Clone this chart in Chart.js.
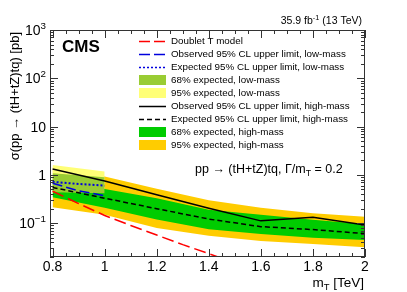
<!DOCTYPE html>
<html>
<head>
<meta charset="utf-8">
<script src="https://cdn.jsdelivr.net/npm/chart.js@4.4.1/dist/chart.umd.min.js"></script>
<style>
  html, body { margin: 0; padding: 0; background: #fff; }
  #wrap { width: 407px; height: 292px; }
</style>
</head>
<body>
<div id="wrap"><canvas id="limits" width="407" height="292"></canvas></div>
<script>
// high-mass search (m_T in TeV, limits in pb)
const massHigh = [0.8, 1.0, 1.2, 1.4, 1.6, 1.8, 2.0];
const obsHigh = [1.32, 0.75, 0.39, 0.205, 0.112, 0.133, 0.092];
const expHigh = [0.55, 0.33, 0.2, 0.122, 0.085, 0.074, 0.061];
const up68High = [0.85, 0.51, 0.33, 0.19, 0.15, 0.118, 0.095];
const dn68High = [0.345, 0.21, 0.12, 0.075, 0.06, 0.05, 0.045];
const up95High = [1.45, 0.93, 0.52, 0.3, 0.21, 0.16, 0.137];
const dn95High = [0.215, 0.149, 0.08, 0.055, 0.043, 0.037, 0.032];

// low-mass search
const massLow = [0.8, 0.9, 1.0];
const obsLow = [0.67, 0.47, 0.37];
const expLow = [0.72, 0.65, 0.6];
const up68Low = [1.08, 0.98, 0.89];
const dn68Low = [0.44, 0.43, 0.42];
const up95Low = [1.6, 1.37, 1.18];
const dn95Low = [0.37, 0.35, 0.33];

// doublet T model
const massTheory = [0.8, 0.9, 1.0, 1.1, 1.2, 1.3, 1.4, 1.5];
const xsecTheory = [0.46, 0.255, 0.145, 0.09, 0.057, 0.036, 0.0235, 0.015];

// axis ticks
const xTickValues = [0.8, 1.0, 1.2, 1.4, 1.6, 1.8, 2.0];
const xTickLabels = ["0.8", "1", "1.2", "1.4", "1.6", "1.8", "2"];
const yTickValues = [0.1, 1, 10, 100, 1000];
const yTickBase = ["10", "1", "10", "10", "10"];
const yTickExp = ["\u22121", "", "", "2", "3"];

const legendLabels = [
  "Doublet T model",
  "Observed 95% CL upper limit, low-mass",
  "Expected 95% CL upper limit, low-mass",
  "68% expected, low-mass",
  "95% expected, low-mass",
  "Observed 95% CL upper limit, high-mass",
  "Expected 95% CL upper limit, high-mass",
  "68% expected, high-mass",
  "95% expected, high-mass",
];

const RED = "#ff0000", BLUE = "#0000dd", BLACK = "#000000";
const LIME = "#99cc33", YELLOW = "#ffff77", GREEN = "#00cc00", ORANGE = "#ffcc00";
const FONT = "'Liberation Sans', Arial, Helvetica, sans-serif";

function pts(xs, ys) {
  return xs.map((x, i) => ({ x: x, y: ys[i] }));
}

function line(data, color, dash, width, order) {
  return {
    data: data, borderColor: color, borderDash: dash, borderWidth: width,
    pointRadius: 0, fill: false, tension: 0, order: order,
  };
}

function band(data, color, target, order) {
  return {
    data: data, borderColor: "rgba(0,0,0,0)", borderWidth: 0, backgroundColor: color,
    pointRadius: 0, fill: target, tension: 0, order: order,
  };
}

// superscript / subscript text helper
function richText(ctx, parts, x, y, size, align) {
  // parts: [text, mode] where mode: 0 normal, 1 sup, -1 sub
  let total = 0;
  const widths = parts.map(p => {
    ctx.font = (p[1] ? size * 0.7 : size) + "px " + FONT;
    const w = ctx.measureText(p[0]).width;
    total += w;
    return w;
  });
  let cx = align === "right" ? x - total : x;
  ctx.textAlign = "left";
  ctx.textBaseline = "alphabetic";
  parts.forEach((p, i) => {
    ctx.font = (p[1] ? size * 0.7 : size) + "px " + FONT;
    const dy = p[1] === 1 ? -size * 0.42 : p[1] === -1 ? size * 0.25 : 0;
    ctx.fillText(p[0], cx, y + dy);
    cx += widths[i];
  });
}

const decor = {
  id: "decor",
  afterDraw(chart) {
    const { ctx, chartArea: a, scales } = chart;
    const sx = scales.x, sy = scales.y;
    ctx.save();
    ctx.strokeStyle = "#333";
    ctx.fillStyle = "#000";
    ctx.lineWidth = 1;
    ctx.setLineDash([]);
    ctx.strokeRect(Math.round(a.left) + 0.5, Math.round(a.top) + 0.5,
      Math.round(a.right - a.left) - 1, Math.round(a.bottom - a.top) - 1);

    // x ticks
    ctx.beginPath();
    for (let i = 0; i <= 24; i++) {
      const v = 0.8 + i * 0.05;
      const px = Math.round(sx.getPixelForValue(v)) + 0.5;
      const len = i % 4 === 0 ? 8 : 4;
      ctx.moveTo(px, a.bottom); ctx.lineTo(px, a.bottom - len);
      ctx.moveTo(px, a.top); ctx.lineTo(px, a.top + len);
    }
    // y ticks
    for (let d = -2; d <= 3; d++) {
      for (let k = 1; k <= 9; k++) {
        const v = k * Math.pow(10, d);
        if (v < 0.02 || v > 1000) continue;
        const py = Math.round(sy.getPixelForValue(v)) + 0.5;
        const len = k === 1 ? 8 : 4;
        ctx.moveTo(a.left, py); ctx.lineTo(a.left + len, py);
        ctx.moveTo(a.right, py); ctx.lineTo(a.right - len, py);
      }
    }
    ctx.stroke();

    // tick labels
    ctx.font = "14px " + FONT;
    ctx.textAlign = "center";
    ctx.textBaseline = "alphabetic";
    xTickValues.forEach((v, i) => {
      ctx.fillText(xTickLabels[i], sx.getPixelForValue(v), 271);
    });
    yTickValues.forEach((v, i) => {
      const py = sy.getPixelForValue(v) + 5;
      const parts = [[yTickBase[i], 0]];
      if (yTickExp[i]) parts.push([yTickExp[i], 1]);
      richText(ctx, parts, 46, py, 14, "right");
    });

    // axis titles
    richText(ctx, [["m", 0], ["T", -1], [" [TeV]", 0]], 364, 287, 13.5, "right");
    ctx.save();
    ctx.translate(19, 32);
    ctx.rotate(-Math.PI / 2);
    ctx.font = "13px " + FONT;
    ctx.textAlign = "right";
    ctx.fillText("\u03c3(pp \u2192 (tH+tZ)tq) [pb]", 0, 0);
    ctx.restore();

    // CMS label, lumi, annotation
    ctx.font = "bold 17px " + FONT;
    ctx.textAlign = "left";
    ctx.fillText("CMS", 62, 52);
    richText(ctx, [["35.9 fb", 0], ["-1", 1], [" (13 TeV)", 0]], 362, 24, 10.5, "right");
    richText(ctx, [["pp \u2192 (tH+tZ)tq, \u0393/m", 0], ["T", -1], [" = 0.2", 0]], 195, 173, 12.5, "left");

    // legend
    const rows = [41, 54, 67, 80, 93, 106, 119, 132, 145];
    const styles = [
      ["line", RED, [11, 4], 1.5],
      ["line", BLUE, [11, 4], 1.5],
      ["line", BLUE, [2, 2], 1.5],
      ["box", LIME],
      ["box", YELLOW],
      ["line", BLACK, [], 1.5],
      ["line", BLACK, [5, 3], 1.5],
      ["box", GREEN],
      ["box", ORANGE],
    ];
    rows.forEach((ry, i) => {
      const s = styles[i];
      if (s[0] === "box") {
        ctx.fillStyle = s[1];
        ctx.fillRect(139, ry - 5, 27, 10);
      } else {
        ctx.strokeStyle = s[1];
        ctx.lineWidth = s[3];
        ctx.setLineDash(s[2]);
        ctx.beginPath();
        ctx.moveTo(139, ry + 0.5);
        ctx.lineTo(166, ry + 0.5);
        ctx.stroke();
        ctx.setLineDash([]);
      }
      ctx.fillStyle = "#000";
      ctx.font = "9.8px " + FONT;
      ctx.textAlign = "left";
      ctx.textBaseline = "middle";
      ctx.fillText(legendLabels[i], 171, ry + 0.5);
    });
    ctx.restore();
  },
};

new Chart(document.getElementById("limits").getContext("2d"), {
  type: "line",
  data: {
    datasets: [
      line(pts(massHigh, obsHigh), BLACK, [], 1.5, 1),
      line(pts(massHigh, expHigh), BLACK, [5, 3], 1.5, 1),
      line(pts(massLow, obsLow), BLUE, [10, 4], 1.5, 1),
      line(pts(massLow, expLow), BLUE, [2, 2], 2, 1),
      line(pts(massTheory, xsecTheory), RED, [12, 5], 1.5, 1),
      band(pts(massLow, up68Low), LIME, 6, 6),
      band(pts(massLow, dn68Low), LIME, false, 6),
      band(pts(massHigh, up68High), GREEN, 8, 7),
      band(pts(massHigh, dn68High), GREEN, false, 7),
      band(pts(massLow, up95Low), YELLOW, 10, 8),
      band(pts(massLow, dn95Low), YELLOW, false, 8),
      band(pts(massHigh, up95High), ORANGE, 12, 9),
      band(pts(massHigh, dn95High), ORANGE, false, 9),
    ],
  },
  options: {
    responsive: false,
    animation: false,
    devicePixelRatio: 1,
    layout: { padding: { left: 50, top: 30, right: 42, bottom: 35 } },
    plugins: { legend: { display: false }, tooltip: { enabled: false } },
    scales: {
      x: { type: "linear", min: 0.79, max: 2.0, display: false },
      y: { type: "logarithmic", min: 0.02, max: 1000, display: false },
    },
  },
  plugins: [decor],
});
</script>
</body>
</html>
